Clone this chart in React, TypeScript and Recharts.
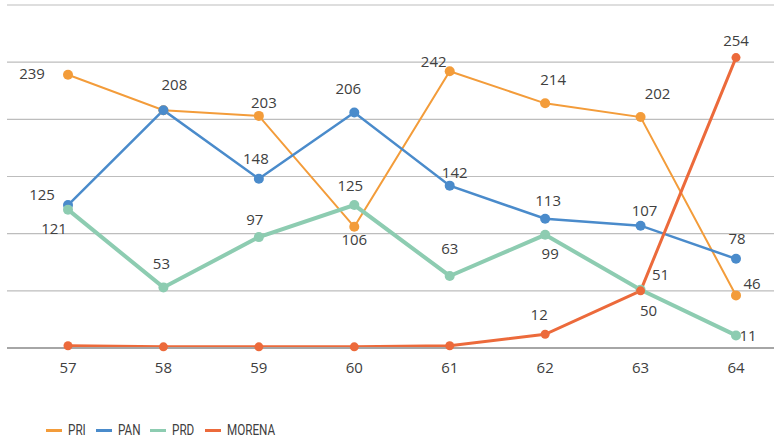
import React from "react";
import { LineChart, Line, XAxis, YAxis, CartesianGrid, LabelList } from "recharts";

const categories = ["57", "58", "59", "60", "61", "62", "63", "64"];
const pri = [239, 208, 203, 106, 242, 214, 202, 46];
const pan = [125, 208, 148, 206, 142, 113, 107, 78];
const prd = [121, 53, 97, 125, 63, 99, 51, 11];
const morena = [2, 1, 1, 1, 2, 12, 50, 254];
const yTicks = [0, 50, 100, 150, 200, 250, 300];

// label offsets relative to each point (null = no label)
const priOff: ([number, number] | null)[] = [[-36, -2], [11, -26], [5, -14], [0, 12], [-16, -10], [8, -24], [17, -24], [16, -12]];
const panOff: ([number, number] | null)[] = [[-26, -11], null, [-3, -21], [-6, -24], [5, -14], [3, -19], [4, -16], [1, -21]];
const prdOff: ([number, number] | null)[] = [[-14, 18], [-2, -24], [-4, -18], [-4, -20], [0, -28], [5, 18], [20, -16], [12, 0]];
const morenaOff: ([number, number] | null)[] = [null, null, null, null, null, [-6, -20], [8, 19], [0, -18]];

const data = categories.map((c, i) => ({
  cat: c,
  PRI: pri[i],
  PAN: pan[i],
  PRD: prd[i],
  MORENA: morena[i],
}));

const series = [
  { key: "PRI", color: "#F39C3A", width: 2, r: 5, off: priOff, legendW: 50 },
  { key: "PAN", color: "#4A8BCB", width: 2.5, r: 5, off: panOff, legendW: 54 },
  { key: "PRD", color: "#8DCCB1", width: 4, r: 5, off: prdOff, legendW: 55 },
  { key: "MORENA", color: "#EC6A3B", width: 3, r: 4.5, off: morenaOff, legendW: 70 },
];

const FONT = "'Open Sans', sans-serif";

const makeLabel = (off: ([number, number] | null)[]) => (props: any) => {
  const { x, y, value, index } = props;
  const o = off[index];
  if (!o) return null;
  return (
    <text
      x={x + o[0]}
      y={y + o[1]}
      textAnchor="middle"
      dominantBaseline="central"
      fontFamily={FONT}
      fontSize={15}
      fill="#404040"
    >
      {value}
    </text>
  );
};

export default function App() {
  return (
    <div style={{ position: "absolute", left: 0, top: 0, width: 774, height: 440, background: "#fff" }}>
      <LineChart
        width={774}
        height={440}
        data={data}
        margin={{ top: 5, right: 0, left: 7, bottom: 62 }}
      >
        <CartesianGrid vertical={false} stroke="#BDBDBD" strokeWidth={1.2} />
        <XAxis
          dataKey="cat"
          height={30}
          padding={{ left: 61, right: 38 }}
          tickLine={false}
          axisLine={{ stroke: "#A6A6A6", strokeWidth: 2 }}
          tickMargin={8}
          tick={{ fontFamily: FONT, fontSize: 15, fill: "#404040" }}
        />
        <YAxis hide domain={[0, 300]} ticks={yTicks} />
        {series.map((s) => (
          <Line
            key={s.key}
            dataKey={s.key}
            stroke={s.color}
            strokeWidth={s.width}
            dot={{ r: s.r, fill: s.color, stroke: s.color, strokeWidth: 0 }}
            activeDot={false}
            isAnimationActive={false}
          >
            <LabelList dataKey={s.key} content={makeLabel(s.off)} />
          </Line>
        ))}
      </LineChart>
      <div
        style={{
          position: "absolute",
          left: 46,
          top: 421,
          display: "flex",
          alignItems: "center",
          fontFamily: "Roboto, sans-serif",
          fontSize: 15,
          color: "#404040",
        }}
      >
        {series.map((s) => (
          <div key={s.key} style={{ display: "flex", alignItems: "center", width: s.legendW }}>
            <div style={{ width: 16, height: 3, background: s.color, marginRight: 6, flexShrink: 0 }} />
            <span style={{ display: "inline-block", transform: "scaleX(0.78)", transformOrigin: "left center", whiteSpace: "nowrap" }}>
              {s.key}
            </span>
          </div>
        ))}
      </div>
    </div>
  );
}
